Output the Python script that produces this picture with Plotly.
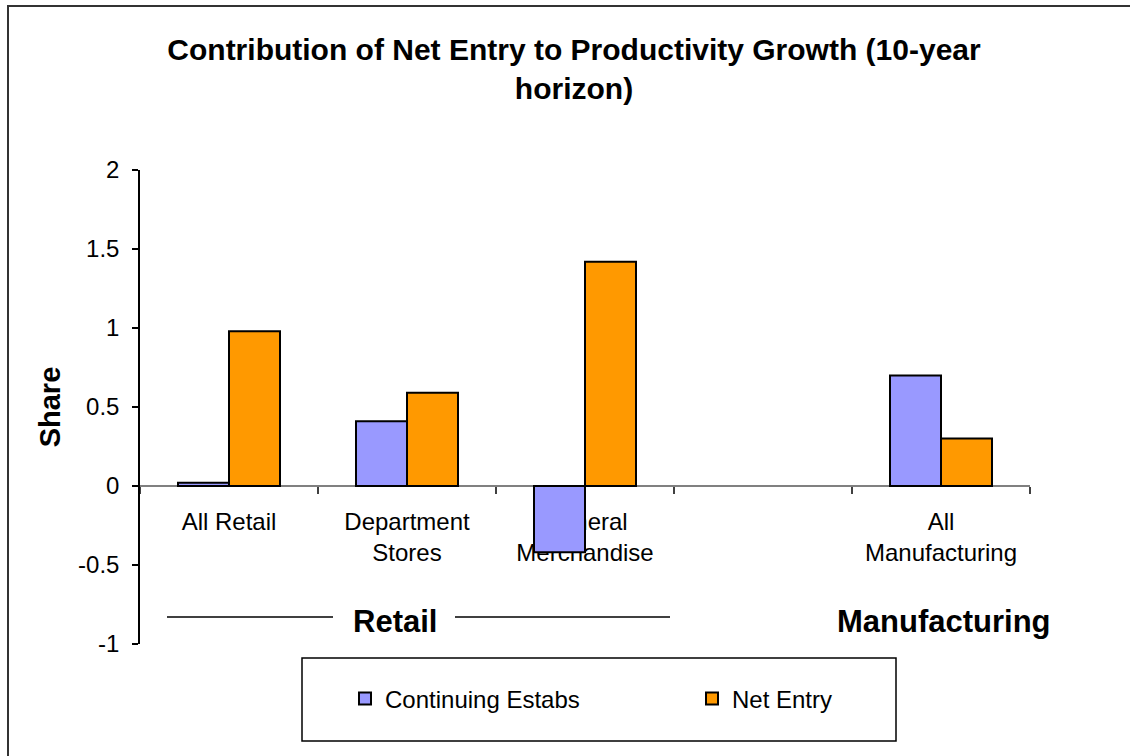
import plotly.graph_objects as go

# Category slots along the x axis (one empty slot separates the two sectors)
slots = ["All Retail", "Department<br>Stores", "General<br>Merchandise", " ", "All<br>Manufacturing"]
categories = ["All Retail", "Department<br>Stores", "General<br>Merchandise", "All<br>Manufacturing"]

continuing_estabs = [0.02, 0.41, -0.42, 0.70]
net_entry = [0.98, 0.59, 1.42, 0.30]

y_ticks = [-1, -0.5, 0, 0.5, 1, 1.5, 2]
y_tick_labels = ["-1", "-0.5", "0", "0.5", "1", "1.5", "2"]

FONT = "Liberation Sans, Arial, Helvetica, sans-serif"

W, H = 1130, 756
L, R, T, B = 140, 100, 170, 112
PW, PH = W - L - R, H - T - B


def px(x):
    return (x - L) / PW


def py(y):
    return (H - B - y) / PH


fig = go.Figure()
fig.add_trace(go.Bar(
    name="Continuing Estabs", x=categories, y=continuing_estabs,
    marker=dict(color="#9999FF", line=dict(color="#000000", width=2)),
))
fig.add_trace(go.Bar(
    name="Net Entry", x=categories, y=net_entry,
    marker=dict(color="#FF9900", line=dict(color="#000000", width=2)),
))

shapes = [
    # outer chart frame
    dict(type="rect", xref="paper", yref="paper",
         x0=px(8), x1=px(1140), y0=py(770), y1=py(6),
         line=dict(color="#333333", width=2), layer="below"),
    # legend frame
    dict(type="rect", xref="paper", yref="paper",
         x0=px(302), x1=px(896), y0=py(741), y1=py(658),
         line=dict(color="#000000", width=1.5)),
    # sector bracket lines beside "Retail"
    dict(type="line", xref="paper", yref="paper",
         x0=px(167), x1=px(333), y0=py(617), y1=py(617),
         line=dict(color="#000000", width=1.5)),
    dict(type="line", xref="paper", yref="paper",
         x0=px(455), x1=px(670), y0=py(617), y1=py(617),
         line=dict(color="#000000", width=1.5)),
]

annotations = [
    dict(text="<b>Retail</b>", xref="paper", yref="paper", x=px(395), y=py(621),
         xanchor="center", yanchor="middle",
         showarrow=False, font=dict(size=31, color="#000000", family=FONT)),
    dict(text="<b>Manufacturing</b>", xref="paper", yref="paper", x=px(944), y=py(621),
         xanchor="center", yanchor="middle",
         showarrow=False, font=dict(size=31, color="#000000", family=FONT)),
]

fig.update_layout(
    width=W, height=H, autosize=False,
    margin=dict(l=L, r=R, t=T, b=B),
    paper_bgcolor="white", plot_bgcolor="white",
    font=dict(family=FONT, size=24, color="#000000"),
    title=dict(
        text="<b>Contribution of Net Entry to Productivity Growth (10-year<br>horizon)</b>",
        x=574 / W, xanchor="center", xref="container",
        y=1 - 60 / H, yanchor="top", yref="container",
        font=dict(size=30, color="#000000", family=FONT),
    ),
    barmode="group", bargap=0.427, bargroupgap=0,
    showlegend=True,
    legend=dict(
        orientation="h", x=px(345), xanchor="left", y=py(699), yanchor="middle",
        font=dict(size=24, color="#000000", family=FONT),
        entrywidth=302, entrywidthmode="pixels",
        bgcolor="rgba(0,0,0,0)", borderwidth=0,
    ),
    xaxis=dict(
        type="category", categoryorder="array", categoryarray=slots,
        anchor="free", position=1 / 3,
        showline=True, linecolor="#808080", linewidth=1.5,
        ticks="outside", tickson="boundaries", ticklen=7, tickcolor="#404040", tickwidth=1.5,
        showgrid=False, zeroline=False, layer="below traces",
        tickfont=dict(size=24, color="#000000", family=FONT),
        ticklabelstandoff=14,
    ),
    yaxis=dict(
        range=[-1, 2], tickmode="array", tickvals=y_ticks, ticktext=y_tick_labels,
        showline=True, linecolor="#000000", linewidth=1.5,
        ticks="outside", ticklen=6, tickcolor="#000000", tickwidth=1.5,
        showgrid=False, zeroline=False,
        tickfont=dict(size=24, color="#000000", family=FONT),
        ticklabelstandoff=8,
        title=dict(text="<b>Share</b>", standoff=9,
                   font=dict(size=29, color="#000000", family=FONT)),
    ),
    shapes=shapes, annotations=annotations,
)

fig.write_html("out.html")
